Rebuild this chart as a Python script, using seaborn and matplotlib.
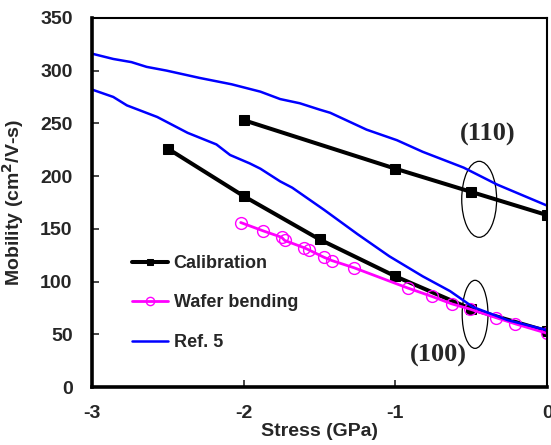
import matplotlib
matplotlib.use("Agg")
import matplotlib.pyplot as plt
from matplotlib.patches import Ellipse
import pandas as pd
import seaborn as sns

# Calibration, (110) and (100) surfaces
cal_110_stress = [-2.0, -1.0, -0.5, 0.0]
cal_110_mob = [253, 207, 185, 163]
cal_100_stress = [-2.5, -2.0, -1.5, -1.0, -0.5, 0.0]
cal_100_mob = [226, 181, 140, 105, 74, 53]

# Wafer bending measurements
wafer_stress = [-2.02, -1.87, -1.75, -1.73, -1.60, -1.57, -1.47, -1.42, -1.27,
                -0.92, -0.76, -0.63, -0.51, -0.34, -0.21, 0.0]
wafer_mob = [156, 148, 142, 139, 132, 130, 123, 120, 113,
             94, 86, 79, 74, 66, 60, 51]

# Ref. 5 curves
ref_110_stress = [-3.0, -2.86, -2.74, -2.64, -2.51, -2.29, -2.08, -1.89, -1.76,
                  -1.63, -1.50, -1.43, -1.19, -0.99, -0.82, -0.55, -0.33, 0.0]
ref_110_mob = [316, 311, 308, 303.5, 300, 293, 287, 280, 273,
               269, 263, 260, 244, 234, 223, 208, 192, 172]
ref_100_stress = [-3.0, -2.86, -2.77, -2.57, -2.37, -2.18, -2.09, -1.96, -1.89,
                  -1.76, -1.68, -1.47, -1.25, -1.04, -0.82, -0.64, -0.49, -0.26, 0.0]
ref_100_mob = [282, 275, 267, 256, 241, 230, 220, 212, 207,
               195, 189, 168, 145, 124, 105, 91, 76, 63.5, 54]


def curve(x, y):
    return pd.DataFrame({"stress": x, "mobility": y})


sns.set_style("white")
plt.rcParams["font.family"] = ["Liberation Sans", "DejaVu Sans"]
plt.rcParams["font.weight"] = "bold"
plt.rcParams["axes.unicode_minus"] = False

fig = plt.figure(figsize=(5.51, 4.45), dpi=100)
ax = fig.add_axes([0.167, 0.130, 0.826, 0.830])

cal_style = dict(color="black", linewidth=2.9, marker="s", markersize=6.5,
                 markeredgecolor="black", estimator=None, sort=False)
sns.lineplot(data=curve(cal_110_stress, cal_110_mob), x="stress", y="mobility",
             ax=ax, label="Calibration", **cal_style)
sns.lineplot(data=curve(cal_100_stress, cal_100_mob), x="stress", y="mobility",
             ax=ax, label="_nolegend_", **cal_style)

sns.lineplot(data=curve(wafer_stress, wafer_mob), x="stress", y="mobility", ax=ax,
             color="#ff00ff", linewidth=2.0, marker="o", markersize=8.5,
             markerfacecolor="none", markeredgecolor="#ff00ff", markeredgewidth=1.0,
             estimator=None, sort=False, label="Wafer bending")

ref_style = dict(color="#0000ff", linewidth=1.8, estimator=None, sort=False)
sns.lineplot(data=curve(ref_110_stress, ref_110_mob), x="stress", y="mobility",
             ax=ax, label="Ref. 5", **ref_style)
sns.lineplot(data=curve(ref_100_stress, ref_100_mob), x="stress", y="mobility",
             ax=ax, label="_nolegend_", **ref_style)

# ellipses and surface labels
ax.add_patch(Ellipse((-0.448, 178), 0.23, 72, fill=False, edgecolor="black",
                     linewidth=0.9))
ax.add_patch(Ellipse((-0.475, 69), 0.17, 64.5, fill=False, edgecolor="black",
                     linewidth=0.9))
ax.text(-0.39, 239, "(110)", family="Liberation Serif", fontweight="bold",
        fontsize=19, ha="center", va="center")
ax.text(-0.72, 30, "(100)", family="Liberation Serif", fontweight="bold",
        fontsize=19, ha="center", va="center")

ax.set_xlim(-3, 0)
ax.set_ylim(0, 350)
ax.set_xticks([-3, -2, -1, 0])
ax.set_yticks(range(0, 351, 50))
ax.tick_params(direction="in", length=5, width=1.2, labelsize=14,
               left=True, bottom=True)
ax.tick_params(axis="x", pad=13)
ax.tick_params(axis="y", pad=14)
for lab in ax.get_xticklabels() + ax.get_yticklabels():
    lab.set_fontweight("bold")
ax.set_xlabel("Stress (GPa)", fontsize=14, fontweight="bold")
ax.set_ylabel("Mobility (cm$^\\mathbf{2}$/V-s)", fontsize=14, fontweight="bold")
ax.xaxis.set_label_coords(0.5, -0.098)
ax.yaxis.set_label_coords(-0.145, 0.5)

for side in ["left", "bottom"]:
    ax.spines[side].set_linewidth(2.6)
for side in ["top", "right"]:
    ax.spines[side].set_linewidth(1.5)
for sp in ax.spines.values():
    sp.set_color("black")

ax.legend(loc="upper left", bbox_to_anchor=(0.088, 0.358), frameon=False,
          borderpad=0, borderaxespad=0, handlelength=2.0, handletextpad=0.3,
          labelspacing=1.25, markerscale=0.7,
          prop={"weight": "bold", "size": 13})

fig.savefig("out.png", dpi=100)
